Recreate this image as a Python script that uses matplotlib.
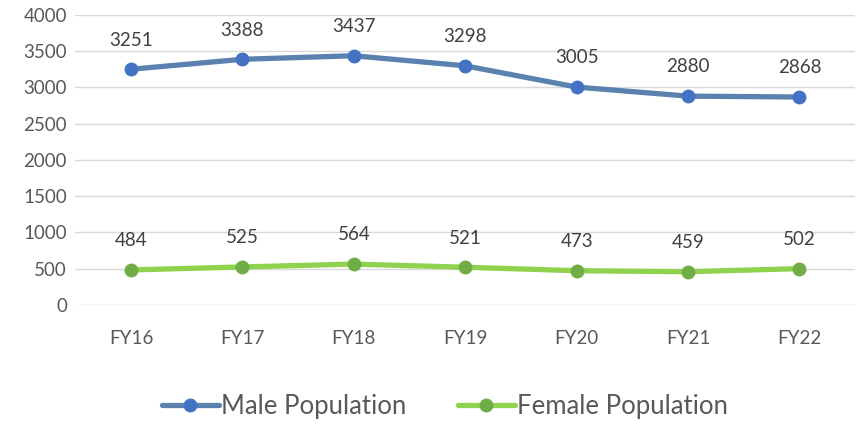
import matplotlib.pyplot as plt

plt.rcParams['font.family'] = ['Lato', 'DejaVu Sans']

years = ['FY16', 'FY17', 'FY18', 'FY19', 'FY20', 'FY21', 'FY22']
male = [3251, 3388, 3437, 3298, 3005, 2880, 2868]
female = [484, 525, 564, 521, 473, 459, 502]
yticks = [0, 500, 1000, 1500, 2000, 2500, 3000, 3500, 4000]

fig = plt.figure(figsize=(8.56, 4.26), dpi=100)
ax = fig.add_axes([0.088, 0.284, 0.911, 0.681])

x = list(range(len(years)))
ax.plot(x, male, color='#5B82AE', lw=3.8, marker='o', ms=9,
        mfc='#4472C4', mec='#4472C4', solid_joinstyle='round',
        solid_capstyle='round', label='Male Population', zorder=3)
ax.plot(x, female, color='#8ED24E', lw=3.8, marker='o', ms=9,
        mfc='#70AD47', mec='#70AD47', solid_joinstyle='round',
        solid_capstyle='round', label='Female Population', zorder=3)

# value labels above the points
for xi, v in zip(x, male):
    ax.annotate(str(v), (xi, v), xytext=(0, 21), textcoords='offset points',
                ha='center', va='center', fontsize=13.5, color='#404040')
for xi, v in zip(x, female):
    ax.annotate(str(v), (xi, v), xytext=(0, 21), textcoords='offset points',
                ha='center', va='center', fontsize=13.5, color='#404040')

ax.set_xlim(-0.5, 6.5)
ax.set_ylim(0, 4000)
ax.set_yticks(yticks)
ax.set_xticks(x)
ax.set_xticklabels(years)
ax.tick_params(axis='both', length=0, labelsize=13.5, labelcolor='#595959')
ax.tick_params(axis='x', pad=18)
ax.tick_params(axis='y', pad=6)
ax.yaxis.grid(True, color='#D9D9D9', lw=1)
ax.set_axisbelow(True)
for s in ax.spines.values():
    s.set_visible(False)

fig.legend(loc='center', bbox_to_anchor=(0.52, 0.045), ncol=2, frameon=False,
           fontsize=18.5, labelcolor='#595959', handlelength=2.2,
           handletextpad=0.1, columnspacing=2.0)

fig.savefig('out.png', dpi=100)
